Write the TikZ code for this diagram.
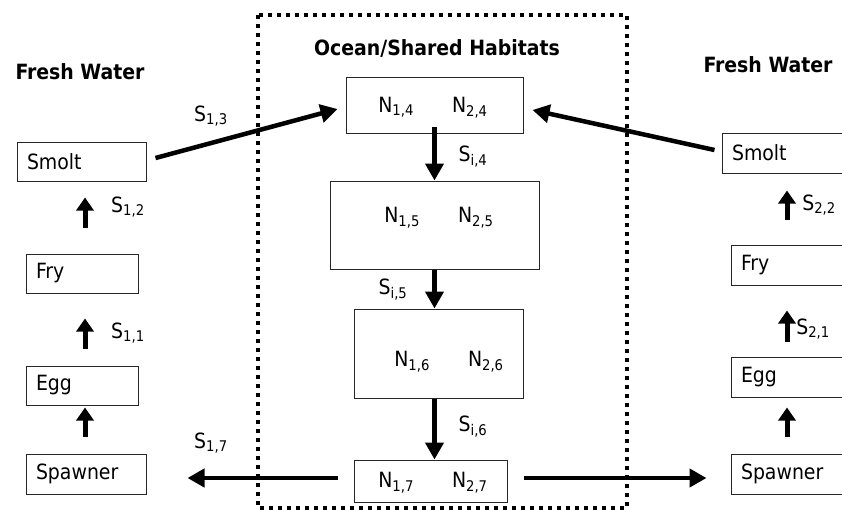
\documentclass[tikz,border=0pt]{standalone}
\usepackage{fontspec}
\setmainfont{DejaVu Sans Condensed}
\usepackage{tikz}
\usetikzlibrary{arrows.meta}

\begin{document}
\begin{tikzpicture}[x=1pt, y=-1pt, font=\fontsize{21}{25}\selectfont,
  stage/.style={draw=black!85, line width=1pt, minimum height=39pt, inner xsep=10pt, align=left},
  pool/.style={draw=black!85, line width=1pt},
  flow/.style={line width=4.5pt, -{Triangle[length=17pt, width=18pt]}},
  rise/.style={line width=5pt, -{Triangle[length=13pt, width=17pt]}},
  habitat/.style={line width=4pt, dash pattern=on 4pt off 5pt},
  title/.style={font=\fontsize{21}{25}\selectfont\bfseries}]
\useasboundingbox (0,0) rectangle (842,512);
\draw[habitat] (258,15) rectangle (627,508);
\node[title] (freshA) at (80,72) {Fresh Water};
\node[title] (ocean) at (437,48) {Ocean/Shared Habitats};
\node[title] (freshB) at (768,65) {Fresh Water};
\node[stage, text width=109pt] (smoltA) at (81.5,161.5) {Smolt};
\node[stage, text width=92pt] (fryA) at (82,273.5) {Fry};
\node[stage, text width=92pt] (eggA) at (82,385.5) {Egg};
\node[stage, text width=100pt, minimum height=40pt] (spawnA) at (86,474) {Spawner};
\node[stage, text width=109pt, minimum height=40pt] (smoltB) at (786.5,153) {Smolt};
\node[stage, text width=92pt, minimum height=40pt] (fryB) at (787,265) {Fry};
\node[stage, text width=92pt, minimum height=40pt] (eggB) at (787,377) {Egg};
\node[stage, text width=100pt, minimum height=40pt] (spawnB) at (791,474) {Spawner};
\node[pool, minimum width=177pt, minimum height=56pt,
  label={[xshift=-1.5pt, yshift=-2.5pt]center:N\textsubscript{1,4}\hspace{38pt}N\textsubscript{2,4}}] (n14) at (434.5,105) {};
\node[pool, minimum width=209pt, minimum height=88pt,
  label={[xshift=4.5pt, yshift=7pt]center:N\textsubscript{1,5}\hspace{38pt}N\textsubscript{2,5}}] (n15) at (434.5,225) {};
\node[pool, minimum width=169pt, minimum height=89pt,
  label={[xshift=10.5pt, yshift=-8.5pt]center:N\textsubscript{1,6}\hspace{38pt}N\textsubscript{2,6}}] (n16) at (438.5,353.5) {};
\node[pool, minimum width=153pt, minimum height=42pt,
  label={[xshift=2.5pt, yshift=-1.5pt]center:N\textsubscript{1,7}\hspace{38pt}N\textsubscript{2,7}}] (n17) at (430.5,481) {};
\node (s13) at (211,116) {S\textsubscript{1,3}};
\node (s12) at (128,207) {S\textsubscript{1,2}};
\node (s11) at (128,333) {S\textsubscript{1,1}};
\node (s17) at (211,443) {S\textsubscript{1,7}};
\node (si4) at (473,157) {S\textsubscript{i,4}};
\node (si5) at (393,290) {S\textsubscript{i,5}};
\node (si6) at (473,427) {S\textsubscript{i,6}};
\node (s22) at (819,205) {S\textsubscript{2,2}};
\node (s21) at (813,329) {S\textsubscript{2,1}};
\draw[flow] ([xshift=9pt, yshift=3.5pt]smoltA.east) -- ([xshift=-8pt, yshift=-4pt]n14.west);
\draw[flow] ([xshift=-7pt, yshift=3pt]smoltB.west) -- ([xshift=9pt, yshift=-5pt]n14.east);
\draw[flow] ([yshift=7pt]n14.south) -- (n15.north);
\draw[flow] (n15.south) -- (n15.south |- n16.north);
\draw[flow] (n15.south |- n16.south) -- (n15.south |- n17.north);
\draw[flow] ([xshift=-16pt, yshift=3pt]n17.west) -- ([xshift=41pt, yshift=-4pt]spawnA.east);
\draw[flow] ([xshift=16pt, yshift=3pt]n17.east) -- ([xshift=-24pt, yshift=-4pt]spawnB.west);
\draw[rise] ([xshift=-1pt, yshift=17pt]spawnA.north) -- ([xshift=3pt, yshift=-2pt]eggA.south);
\draw[rise] ([xshift=3pt, yshift=17pt]eggA.north) -- ([xshift=3pt, yshift=-25pt]fryA.south);
\draw[rise] ([xshift=3pt, yshift=26pt]fryA.north) -- ([xshift=3.5pt, yshift=-16pt]smoltA.south);
\draw[rise] ([xshift=-4pt, yshift=17pt]spawnB.north) -- ([yshift=-10pt]eggB.south);
\draw[rise] ([yshift=15pt]eggB.north) -- ([yshift=-25pt]fryB.south);
\draw[rise] ([yshift=25pt]fryB.north) -- ([xshift=0.5pt, yshift=-17pt]smoltB.south);
\end{tikzpicture}
\end{document}
